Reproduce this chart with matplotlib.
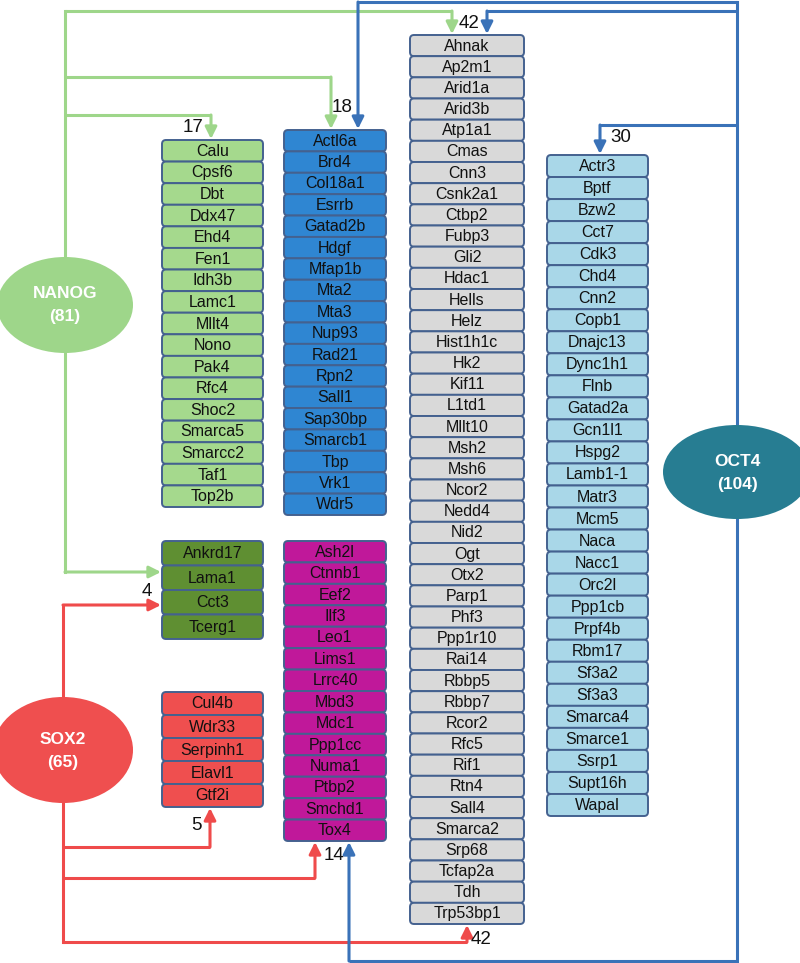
import matplotlib
matplotlib.use("Agg")
import matplotlib.pyplot as plt
from matplotlib.patches import FancyBboxPatch, Ellipse

plt.rcParams['font.family'] = ['Liberation Sans', 'DejaVu Sans']

# ---- data ----
nanog_only = ["Calu", "Cpsf6", "Dbt", "Ddx47", "Ehd4", "Fen1", "Idh3b", "Lamc1", "Mllt4",
              "Nono", "Pak4", "Rfc4", "Shoc2", "Smarca5", "Smarcc2", "Taf1", "Top2b"]
nanog_oct4 = ["Actl6a", "Brd4", "Col18a1", "Esrrb", "Gatad2b", "Hdgf", "Mfap1b", "Mta2", "Mta3",
              "Nup93", "Rad21", "Rpn2", "Sall1", "Sap30bp", "Smarcb1", "Tbp", "Vrk1", "Wdr5"]
all_three = ["Ahnak", "Ap2m1", "Arid1a", "Arid3b", "Atp1a1", "Cmas", "Cnn3", "Csnk2a1", "Ctbp2",
             "Fubp3", "Gli2", "Hdac1", "Hells", "Helz", "Hist1h1c", "Hk2", "Kif11", "L1td1",
             "Mllt10", "Msh2", "Msh6", "Ncor2", "Nedd4", "Nid2", "Ogt", "Otx2", "Parp1", "Phf3",
             "Ppp1r10", "Rai14", "Rbbp5", "Rbbp7", "Rcor2", "Rfc5", "Rif1", "Rtn4", "Sall4",
             "Smarca2", "Srp68", "Tcfap2a", "Tdh", "Trp53bp1"]
oct4_only = ["Actr3", "Bptf", "Bzw2", "Cct7", "Cdk3", "Chd4", "Cnn2", "Copb1", "Dnajc13", "Dync1h1",
             "Flnb", "Gatad2a", "Gcn1l1", "Hspg2", "Lamb1-1", "Matr3", "Mcm5", "Naca", "Nacc1",
             "Orc2l", "Ppp1cb", "Prpf4b", "Rbm17", "Sf3a2", "Sf3a3", "Smarca4", "Smarce1", "Ssrp1",
             "Supt16h", "Wapal"]
nanog_sox2 = ["Ankrd17", "Lama1", "Cct3", "Tcerg1"]
sox2_oct4 = ["Ash2l", "Ctnnb1", "Eef2", "Ilf3", "Leo1", "Lims1", "Lrrc40", "Mbd3", "Mdc1",
             "Ppp1cc", "Numa1", "Ptbp2", "Smchd1", "Tox4"]
sox2_only = ["Cul4b", "Wdr33", "Serpinh1", "Elavl1", "Gtf2i"]

factors = ["NANOG", "SOX2", "OCT4"]
factor_totals = [81, 65, 104]

# ---- style ----
EDGE = "#44618f"
C_LGREEN = "#a5d98d"
C_DGREEN = "#5f8f32"
C_BLUE = "#2f86d2"
C_GREY = "#d9d9d9"
C_LBLUE = "#a9d7e8"
C_MAG = "#c0189a"
C_RED = "#ef4f4f"
L_GREEN = "#9ed68a"
L_BLUE = "#3a72b8"
L_RED = "#ef4b4b"
C_OCT4 = "#277d92"

fig = plt.figure(figsize=(8.0, 9.63), dpi=100)
ax = fig.add_axes([0, 0, 1, 1])
ax.set_xlim(0, 800)
ax.set_ylim(963, 0)
ax.axis("off")


def column(names, x0, x1, top, bottom, color, fs=11.5):
    h = (bottom - top) / len(names)
    for i, n in enumerate(names):
        y = top + i * h
        box = FancyBboxPatch((x0 + 1.5, y + 1.5), (x1 - x0) - 3, h - 3,
                             boxstyle="round,pad=1.5,rounding_size=4",
                             fc=color, ec=EDGE, lw=1.4, zorder=3)
        ax.add_patch(box)
        ax.text((x0 + x1) / 2, y + h / 2 + 0.5, n, ha="center", va="center",
                fontsize=fs, color="#111111", zorder=4)


column(nanog_only, 162, 263, 140, 507, C_LGREEN)
column(nanog_oct4, 284, 386, 130, 515, C_BLUE)
column(all_three, 410, 524, 35, 924, C_GREY)
column(oct4_only, 547, 648, 155, 816, C_LBLUE)
column(nanog_sox2, 162, 263, 541, 639, C_DGREEN)
column(sox2_oct4, 284, 386, 541, 841, C_MAG)
column(sox2_only, 162, 263, 692, 807, C_RED)

LW = 2.2


def path(pts, color):
    xs = [p[0] for p in pts]
    ys = [p[1] for p in pts]
    ax.plot(xs[:-1], ys[:-1], color=color, lw=LW, solid_capstyle="butt",
            solid_joinstyle="miter", zorder=1)
    ax.annotate("", xy=pts[-1], xytext=pts[-2],
                arrowprops=dict(arrowstyle="-|>,head_length=0.7,head_width=0.35",
                                color=color, lw=LW, shrinkA=0, shrinkB=0),
                zorder=2)


# NANOG
ax.plot([65, 65], [11, 572], color=L_GREEN, lw=LW, zorder=1)
path([(65, 11), (452, 11), (452, 34)], L_GREEN)
path([(65, 77), (331, 77), (331, 129)], L_GREEN)
path([(65, 115), (211, 115), (211, 139)], L_GREEN)
path([(65, 572), (161, 572)], L_GREEN)

# OCT4
ax.plot([737, 737], [2, 961], color=L_BLUE, lw=LW, zorder=1)
path([(737, 2), (358, 2), (358, 129)], L_BLUE)
path([(737, 11), (487, 11), (487, 34)], L_BLUE)
path([(737, 125), (600, 125), (600, 154)], L_BLUE)
path([(737, 961), (349, 961), (349, 842)], L_BLUE)

# SOX2
ax.plot([63, 63], [605, 942], color=L_RED, lw=LW, zorder=1)
path([(63, 605), (161, 605)], L_RED)
path([(63, 847), (210, 847), (210, 808)], L_RED)
path([(63, 878), (315, 878), (315, 842)], L_RED)
path([(63, 942), (467, 942), (467, 925)], L_RED)

# counts
for txt, x, y in [("17", 193, 128), ("18", 342, 107), ("42", 469, 23), ("30", 621, 137),
                  ("4", 147, 591), ("5", 196, 825), ("14", 334, 856), ("42", 481, 939)]:
    ax.text(x, y, txt, ha="center", va="center", fontsize=13.5, color="#111111", zorder=5)

# factor ellipses
ell = [(65, 305, 136, 96, L_GREEN), (63, 750, 140, 106, C_RED), (737, 472, 148, 94, C_OCT4)]
for (cx, cy, w, h, c), name, tot in zip(ell, factors, factor_totals):
    ax.add_patch(Ellipse((cx, cy), w, h, fc=c, ec="none", zorder=6))
    ax.text(cx, cy - 11, name, ha="center", va="center", fontsize=12.5,
            fontweight="bold", color="white", zorder=7)
    ax.text(cx, cy + 12, f"({tot})", ha="center", va="center", fontsize=12.5,
            fontweight="bold", color="white", zorder=7)

fig.savefig("out.png", dpi=100, facecolor="white")
